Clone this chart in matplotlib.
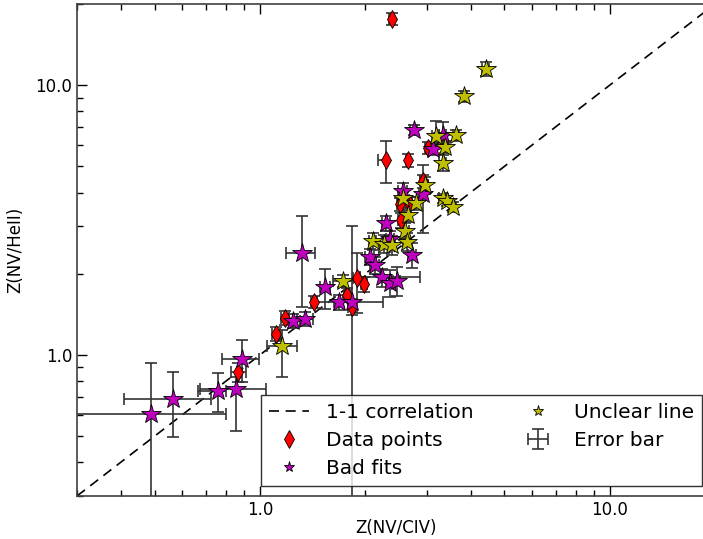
import matplotlib
matplotlib.use("Agg")
import matplotlib.pyplot as plt
from matplotlib.lines import Line2D
from matplotlib.ticker import FixedLocator, FormatStrFormatter, LogLocator, NullFormatter

# Data points (red diamonds)
data_x = [2.38, 2.29, 2.65, 3.02, 2.92, 2.53, 2.51, 2.67, 1.89, 1.98, 1.78, 1.83, 1.43, 1.18, 1.11, 0.865]
data_y = [17.6, 5.27, 5.27, 5.84, 4.41, 3.16, 3.62, 3.65, 1.93, 1.83, 1.67, 1.51, 1.57, 1.37, 1.20, 0.865]
data_xlo = [0.04, 0.12, 0.04, 0.05, 0.05, 0.05, 0.05, 0.05, 0.04, 0.04, 0.04, 0.04, 0.03, 0.03, 0.03, 0.04]
data_xhi = [0.04, 0.04, 0.04, 0.05, 0.05, 0.05, 0.05, 0.05, 0.04, 0.04, 0.04, 0.04, 0.03, 0.03, 0.03, 0.05]
data_ylo = [0.9, 0.93, 0.3, 0.3, 0.25, 0.2, 0.2, 0.2, 0.5, 0.12, 0.1, 0.1, 0.08, 0.08, 0.07, 0.07]
data_yhi = [0.9, 0.93, 0.3, 0.3, 0.25, 0.2, 0.2, 0.2, 0.46, 0.12, 0.1, 0.1, 0.08, 0.08, 0.07, 0.07]

# Bad fits (purple stars)
bad_x = [0.488, 0.564, 0.759, 0.854, 0.888, 1.24, 1.35, 1.32, 1.54, 1.68, 1.83, 2.29,
         2.35, 2.72, 2.06, 2.13, 2.23, 2.35, 2.46, 2.56, 2.92, 3.12, 3.33, 2.75]
bad_y = [0.605, 0.687, 0.736, 0.748, 0.966, 1.336, 1.36, 2.39, 1.79, 1.57, 1.57, 3.08,
         2.69, 2.35, 2.31, 2.15, 1.94, 1.85, 1.88, 4.05, 3.95, 5.79, 6.53, 6.81]
bad_xlo = [0.25, 0.155, 0.094, 0.18, 0.109, 0.06, 0.07, 0.13, 0.05, 0.05, 0.37, 0.06,
           0.06, 0.07, 0.06, 0.06, 0.30, 0.06, 0.06, 0.07, 0.07, 0.07, 0.07, 0.07]
bad_xhi = [0.31, 0.16, 0.041, 0.186, 0.105, 0.06, 0.07, 0.12, 0.05, 0.05, 0.42, 0.06,
           0.06, 0.07, 0.06, 0.06, 0.63, 0.06, 0.06, 0.07, 0.07, 0.07, 0.07, 0.07]
bad_ylo = [0.34, 0.19, 0.121, 0.225, 0.172, 0.08, 0.08, 0.88, 0.31, 0.1, 1.32, 0.2,
           0.2, 0.25, 0.15, 0.15, 0.15, 0.21, 0.23, 0.3, 1.12, 0.3, 0.5, 0.3]
bad_yhi = [0.33, 0.178, 0.122, 0.081, 0.171, 0.08, 0.08, 0.88, 0.29, 0.1, 1.43, 0.2,
           0.2, 0.25, 0.15, 0.15, 0.15, 0.21, 0.23, 0.3, 1.1, 0.3, 0.77, 0.3]

# Unclear line (yellow stars)
unc_x = [4.42, 3.83, 3.18, 3.63, 3.38, 3.33, 2.96, 2.56, 2.79, 2.65,
         2.60, 2.10, 2.26, 2.38, 2.63, 3.33, 3.42, 3.56, 1.73, 1.16]
unc_y = [11.5, 9.1, 6.47, 6.53, 5.89, 5.14, 4.26, 3.81, 3.65, 3.30,
         2.88, 2.64, 2.58, 2.55, 2.62, 3.81, 3.72, 3.53, 1.88, 1.08]
unc_xlo = [0.1, 0.08, 0.07, 0.07, 0.07, 0.07, 0.07, 0.06, 0.06, 0.06,
           0.06, 0.05, 0.05, 0.05, 0.06, 0.07, 0.07, 0.07, 0.11, 0.11]
unc_xhi = [0.1, 0.08, 0.07, 0.07, 0.07, 0.07, 0.07, 0.06, 0.06, 0.06,
           0.06, 0.05, 0.05, 0.05, 0.06, 0.07, 0.07, 0.07, 0.27, 0.12]
unc_ylo = [0.7, 0.4, 0.6, 0.3, 0.3, 0.35, 0.3, 0.2, 0.2, 0.2,
           0.2, 0.2, 0.2, 0.2, 0.2, 0.15, 0.15, 0.15, 0.1, 0.25]
unc_yhi = [0.7, 0.4, 0.88, 0.3, 0.3, 0.35, 0.3, 0.2, 0.2, 0.2,
           0.2, 0.2, 0.2, 0.2, 0.2, 0.15, 0.15, 0.15, 0.1, 0.16]

one_to_one = [0.3, 20.0]
decade_ticks = [1.0, 10.0]

fig = plt.figure(figsize=(7.03, 5.39), dpi=100)
ax = fig.add_axes([77 / 703, 43 / 539, 638 / 703, 492 / 539])
ax.set_xscale("log")
ax.set_yscale("log")

ax.plot(one_to_one, one_to_one, color="k", ls="--", dashes=(6, 4), lw=1.2, zorder=1)

err_kw = dict(fmt="none", ecolor="0.2", elinewidth=1.2, capsize=4, capthick=1.2, zorder=2)
eb = ax.errorbar(data_x, data_y, xerr=[data_xlo, data_xhi], yerr=[data_ylo, data_yhi], **err_kw)
ax.errorbar(bad_x, bad_y, xerr=[bad_xlo, bad_xhi], yerr=[bad_ylo, bad_yhi], **err_kw)
ax.errorbar(unc_x, unc_y, xerr=[unc_xlo, unc_xhi], yerr=[unc_ylo, unc_yhi], **err_kw)

ax.plot(data_x, data_y, ls="none", marker="d", ms=9, mfc="red", mec="k", mew=0.6, zorder=3)
ax.plot(bad_x, bad_y, ls="none", marker="*", ms=15, mfc="#bf00bf", mec="k", mew=0.6, zorder=4)
ax.plot(unc_x, unc_y, ls="none", marker="*", ms=15, mfc="#bfbf00", mec="k", mew=0.6, zorder=5)

ax.set_xlim(0.3, 20)
ax.set_ylim(0.3, 20)
for axis in (ax.xaxis, ax.yaxis):
    axis.set_major_locator(FixedLocator(decade_ticks))
    axis.set_major_formatter(FormatStrFormatter("%.1f"))
    axis.set_minor_locator(LogLocator(base=10, subs=range(2, 10)))
    axis.set_minor_formatter(NullFormatter())
ax.tick_params(which="both", direction="in", top=True, right=True, labelsize=12)
ax.tick_params(which="major", length=7, width=1)
ax.tick_params(which="minor", length=4, width=1)
for sp in ax.spines.values():
    sp.set_linewidth(1.2)
    sp.set_color("0.25")

ax.set_xlabel("Z(NV/CIV)", fontsize=12, labelpad=0)
ax.set_ylabel("Z(NV/HeII)", fontsize=12, labelpad=8)

handles = [
    Line2D([], [], color="k", ls="--", dashes=(6, 4), lw=1.2),
    Line2D([], [], ls="none", marker="d", ms=9, mfc="red", mec="k", mew=0.6),
    Line2D([], [], ls="none", marker="*", ms=8, mfc="#bf00bf", mec="k", mew=0.6),
    Line2D([], [], ls="none", marker="*", ms=8, mfc="#bfbf00", mec="k", mew=0.6),
    eb,
]
labels = ["1-1 correlation", "Data points", "Bad fits", "Unclear line", "Error bar"]
leg = ax.legend(handles, labels, loc="lower right", bbox_to_anchor=(625 / 638, 10 / 492),
                borderaxespad=0, ncol=2, fontsize=14.5, fancybox=False, columnspacing=2.2,
                handletextpad=0.8, labelspacing=0.45, borderpad=0.4)
leg.get_frame().set_edgecolor("k")
leg.get_frame().set_linewidth(1.0)

fig.savefig("out.png", dpi=100)
